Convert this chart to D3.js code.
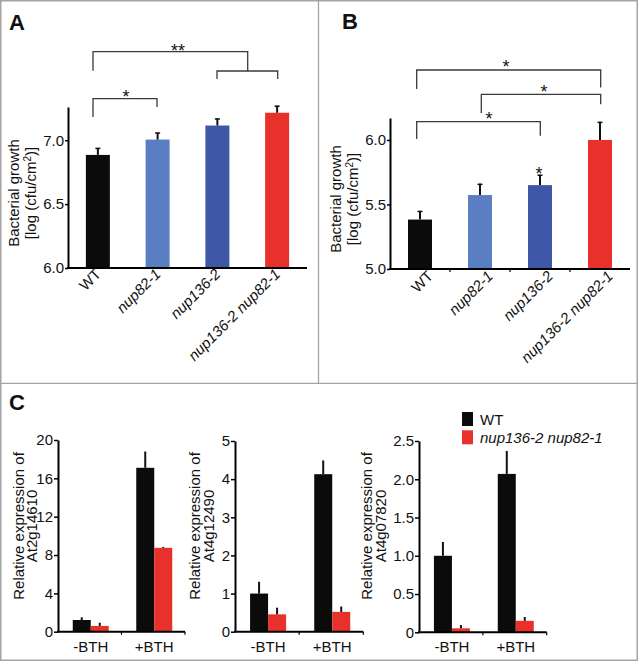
<!DOCTYPE html>
<html><head><meta charset="utf-8">
<script src="https://cdn.jsdelivr.net/npm/d3@7"></script>
<style>body{margin:0;background:#fff}svg{display:block;font-family:"Liberation Sans",Arial,Helvetica,sans-serif}</style>
</head><body><svg id="c" width="638" height="661"></svg>
<script>
// ---------- data ----------
const strains = ["WT", "nup82-1", "nup136-2", "nup136-2 nup82-1"];
const strainItalic = [false, true, true, true];
const strainColors = ["#0b0b0b", "#5a7ec2", "#3e57a6", "#e8312a"];

const growthA = [6.885, 7.005, 7.115, 7.215];
const growthAErr = [0.055, 0.055, 0.055, 0.055];
const ticksA = [6.0, 6.5, 7.0];

const growthB = [5.383, 5.573, 5.65, 6.0];
const growthBErr = [0.067, 0.087, 0.08, 0.14];
const ticksB = [5.0, 5.5, 6.0];

const treatments = ["-BTH", "+BTH"];
const genotypes = ["WT", "nup136-2 nup82-1"];
const genotypeColors = ["#0b0b0b", "#e8312a"];
const genes = ["At2g14610", "At4g12490", "At4g07820"];
// values[treatment][genotype]
const exprAt2g14610 = [[1.22, 0.6], [17.1, 8.75]];
const errAt2g14610 = [[0.28, 0.34], [1.7, 0.1]];
const ticksAt2g14610 = [0, 4, 8, 12, 16, 20];
const exprAt4g12490 = [[1.0, 0.455], [4.13, 0.52]];
const errAt4g12490 = [[0.31, 0.175], [0.36, 0.14]];
const ticksAt4g12490 = [0, 1, 2, 3, 4, 5];
const exprAt4g07820 = [[1.0, 0.052], [2.07, 0.15]];
const errAt4g07820 = [[0.18, 0.043], [0.30, 0.05]];
const ticksAt4g07820 = [0, 0.5, 1.0, 1.5, 2.0, 2.5];
const tickLabelsAt4g07820 = ["0", "0.5", "1.0", "1.5", "2.0", "2.5"];

// ---------- drawing ----------
const svg = d3.select("#c");
const FS = 15;
const brCol = "#3a3a3a";

// frame
svg.append("rect").attr("x", 0.75).attr("y", 0.75).attr("width", 636.5).attr("height", 659.5)
  .attr("fill", "none").attr("stroke", "#a4a4a4").attr("stroke-width", 1.5);
svg.append("line").attr("x1", 0).attr("x2", 638).attr("y1", 383.3).attr("y2", 383.3)
  .attr("stroke", "#a4a4a4").attr("stroke-width", 1.3);
svg.append("line").attr("x1", 318.5).attr("x2", 318.5).attr("y1", 0).attr("y2", 383.3)
  .attr("stroke", "#a4a4a4").attr("stroke-width", 1.3);

function panelLabel(t, x, y) {
  svg.append("text").attr("x", x).attr("y", y).attr("font-size", 22).attr("font-weight", "bold")
    .attr("fill", "#111").text(t);
}
panelLabel("A", 9, 30);
panelLabel("B", 342, 29);
panelLabel("C", 9, 410);

function yLabel(lines, x0, yc, gap) {
  const t = svg.append("text").attr("transform", `translate(${x0},${yc}) rotate(-90)`)
    .attr("text-anchor", "middle").attr("font-size", FS).attr("fill", "#111");
  lines.forEach((l, i) => {
    const ts = t.append("tspan").attr("x", 0).attr("y", i * gap);
    if (typeof l === "string") ts.text(l);
    else l.forEach(p => { const s = ts.append("tspan").text(p.t); if (p.sup) s.attr("baseline-shift", "super").attr("font-size", 10); });
  });
}

function barPanel(cfg) {
  const g = svg.append("g");
  const x = d3.scaleBand().domain(strains).range(cfg.xr).padding(0);
  const y = d3.scaleLinear().domain(cfg.yd).range(cfg.yr);
  const bw = 24;
  const y0 = y(cfg.yd[0]);
  strains.forEach((s, i) => {
    const cx = x(s) + x.bandwidth() / 2;
    g.append("rect").attr("x", cx - bw / 2).attr("width", bw)
      .attr("y", y(cfg.vals[i])).attr("height", y0 - y(cfg.vals[i])).attr("fill", strainColors[i]);
    const et = y(cfg.vals[i] + cfg.errs[i]);
    g.append("line").attr("x1", cx).attr("x2", cx).attr("y1", y(cfg.vals[i])).attr("y2", et)
      .attr("stroke", "#111").attr("stroke-width", 2);
    g.append("line").attr("x1", cx - 2.5).attr("x2", cx + 2.5).attr("y1", et + 0.5).attr("y2", et + 0.5)
      .attr("stroke", "#111").attr("stroke-width", 1.5);
  });
  // y axis
  const ax = g.append("g").attr("transform", `translate(${cfg.xr[0]},0)`)
    .call(d3.axisLeft(y).tickValues(cfg.ticks).tickFormat(d3.format(".1f")).tickSize(3).tickSizeOuter(0).tickPadding(1));
  ax.select(".domain").attr("stroke", "#000").attr("stroke-width", 2);
  ax.selectAll(".tick line").attr("stroke", "#000").attr("stroke-width", 1.5);
  ax.selectAll(".tick text").attr("font-size", FS).attr("font-family", "Liberation Sans, Arial, sans-serif").attr("fill", "#111");
  // x axis
  g.append("line").attr("x1", cfg.xr[0] - 1).attr("x2", cfg.xr[1]).attr("y1", y0).attr("y2", y0)
    .attr("stroke", "#000").attr("stroke-width", 2);
  strains.forEach((s, i) => {
    if (i > 0 && cfg.bticks) g.append("line").attr("x1", x(s)).attr("x2", x(s)).attr("y1", y0).attr("y2", y0 + 3)
      .attr("stroke", "#000").attr("stroke-width", 1.2);
    const cx = x(s) + x.bandwidth() / 2;
    g.append("text").attr("transform", `translate(${cx + cfg.ldx},${y0 + cfg.ldy}) rotate(-45)`)
      .attr("text-anchor", "end").attr("font-size", FS).attr("fill", "#111")
      .attr("font-style", strainItalic[i] ? "italic" : "normal").text(s);
  });
  return {x, y};
}

function bracket(pts) {
  svg.append("path").attr("d", d3.line()(pts)).attr("fill", "none")
    .attr("stroke", brCol).attr("stroke-width", 1.3);
}
function star(t, cx, cy) {
  svg.append("text").attr("x", cx).attr("y", cy + 0.55 * 18).attr("text-anchor", "middle")
    .attr("font-size", 18).attr("fill", "#111").text(t);
}

// Panel A
barPanel({xr: [68, 307], yd: [6.0, 7.26], yr: [268, 107], vals: growthA, errs: growthAErr, ticks: ticksA, ldx: 4, ldy: 7, bticks: false});
yLabel(["Bacterial growth", [{t: "[log (cfu/cm"}, {t: "2", sup: true}, {t: ")]"}]], 19, 193, 17);
bracket([[93, 117], [93, 98.7], [157, 98.7], [157, 107]]);
star("*", 126, 93.5);
bracket([[93, 70.7], [93, 51.7], [247.7, 51.7], [247.7, 71]]);
bracket([[217, 79], [217, 71], [277.7, 71], [277.7, 79]]);
star("**", 178, 47);

// Panel B
barPanel({xr: [390, 630], yd: [5.0, 6.17], yr: [269, 118], vals: growthB, errs: growthBErr, ticks: ticksB, ldx: 14, ldy: 8, bticks: true});
yLabel(["Bacterial growth", [{t: "[log (cfu/cm"}, {t: "2", sup: true}, {t: ")]"}]], 341, 199, 17);
bracket([[416.7, 89], [416.7, 70], [600.7, 70], [600.7, 87.5]]);
star("*", 506, 63);
bracket([[481.3, 113], [481.3, 94.3], [600.7, 94.3], [600.7, 104.3]]);
star("*", 544, 88);
bracket([[416.7, 139], [416.7, 121.7], [540.3, 121.7], [540.3, 135.7]]);
star("*", 489, 115);
star("*", 539, 170);

// Panel C
function exprPanel(cfg) {
  const g = svg.append("g");
  const x = d3.scaleBand().domain(treatments).range(cfg.xr).padding(0);
  const sub = d3.scaleBand().domain(genotypes).range([0, 36]).padding(0);
  const y = d3.scaleLinear().domain(cfg.yd).range(cfg.yr);
  const y0 = y(0);
  treatments.forEach((t, ti) => {
    const gx = x(t) + x.bandwidth() / 2 - 18 + 1;
    genotypes.forEach((gt, gi) => {
      const v = cfg.vals[ti][gi], e = cfg.errs[ti][gi];
      const bx = gx + sub(gt);
      g.append("rect").attr("x", bx).attr("width", sub.bandwidth()).attr("y", y(v))
        .attr("height", y0 - y(v)).attr("fill", genotypeColors[gi]);
      const cx = bx + sub.bandwidth() / 2;
      g.append("line").attr("x1", cx).attr("x2", cx).attr("y1", y(v)).attr("y2", y(v + e))
        .attr("stroke", "#111").attr("stroke-width", 2);
    });
    g.append("text").attr("x", x(t) + x.bandwidth() / 2 + 1).attr("y", 652).attr("text-anchor", "middle")
      .attr("font-size", FS).attr("fill", "#111").text(t);
    if (ti > 0) g.append("line").attr("x1", x(t)).attr("x2", x(t)).attr("y1", y0).attr("y2", y0 + 3)
      .attr("stroke", "#000").attr("stroke-width", 1.2);
  });
  g.append("line").attr("x1", cfg.xr[1]).attr("x2", cfg.xr[1]).attr("y1", y0).attr("y2", y0 + 3)
    .attr("stroke", "#000").attr("stroke-width", 1.2);
  const ax = g.append("g").attr("transform", `translate(${cfg.xr[0]},0)`)
    .call(d3.axisLeft(y).tickValues(cfg.ticks).tickFormat((d, i) => cfg.tlabels ? cfg.tlabels[i] : d3.format("d")(d))
      .tickSize(4).tickSizeOuter(0).tickPadding(1));
  ax.select(".domain").attr("stroke", "#000").attr("stroke-width", 2);
  ax.selectAll(".tick line").attr("stroke", "#000").attr("stroke-width", 1.5);
  ax.selectAll(".tick text").attr("font-size", FS).attr("font-family", "Liberation Sans, Arial, sans-serif").attr("fill", "#111");
  g.append("line").attr("x1", cfg.xr[0] - 1).attr("x2", cfg.xr[1]).attr("y1", y0).attr("y2", y0)
    .attr("stroke", "#000").attr("stroke-width", 2);
}

exprPanel({xr: [58, 185], yd: [0, 20], yr: [631.7, 440], vals: exprAt2g14610, errs: errAt2g14610, ticks: ticksAt2g14610});
yLabel(["Relative expression of", genes[0]], 23.5, 526, 13.5);
exprPanel({xr: [235, 363.3], yd: [0, 5], yr: [631.7, 441], vals: exprAt4g12490, errs: errAt4g12490, ticks: ticksAt4g12490});
yLabel(["Relative expression of", genes[1]], 200, 526, 13.5);
exprPanel({xr: [419, 546.7], yd: [0, 2.5], yr: [632.3, 441], vals: exprAt4g07820, errs: errAt4g07820, ticks: ticksAt4g07820, tlabels: tickLabelsAt4g07820});
yLabel(["Relative expression of", genes[2]], 372, 526, 13.5);

// legend
const lg = svg.append("g");
genotypes.forEach((gt, i) => {
  lg.append("rect").attr("x", 462).attr("y", 412 + i * 18.3).attr("width", 11).attr("height", 14)
    .attr("fill", genotypeColors[i]);
  lg.append("text").attr("x", 480).attr("y", 425 + i * 18.3).attr("font-size", FS).attr("fill", "#111")
    .attr("font-style", i ? "italic" : "normal").text(gt);
});
</script></body></html>
